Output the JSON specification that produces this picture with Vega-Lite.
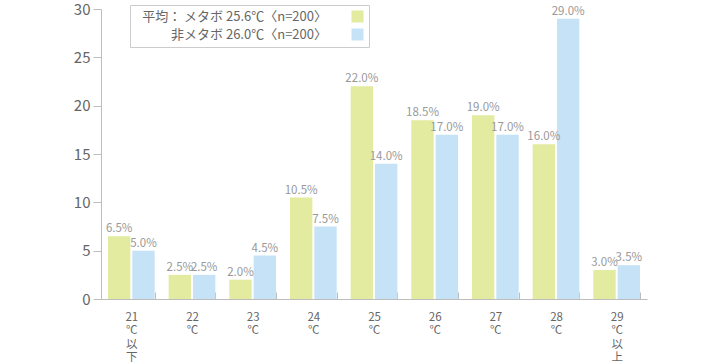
{
  "$schema": "https://vega.github.io/schema/vega-lite/v6.json",
  "width": 546,
  "height": 290,
  "autosize": "none",
  "padding": {"left": 101, "top": 9, "right": 69, "bottom": 65},
  "background": "white",
  "config": {
    "font": "Noto Sans CJK JP",
    "view": {"stroke": null},
    "axis": {"grid": false, "domainColor": "#bdbdbd", "tickColor": "#bdbdbd", "labelColor": "#666666", "title": null}
  },
  "data": {
    "values": [
      {"temp": "21|℃|以|下", "group": "メタボ", "value": 6.5},
      {"temp": "21|℃|以|下", "group": "非メタボ", "value": 5.0},
      {"temp": "22|℃", "group": "メタボ", "value": 2.5},
      {"temp": "22|℃", "group": "非メタボ", "value": 2.5},
      {"temp": "23|℃", "group": "メタボ", "value": 2.0},
      {"temp": "23|℃", "group": "非メタボ", "value": 4.5},
      {"temp": "24|℃", "group": "メタボ", "value": 10.5},
      {"temp": "24|℃", "group": "非メタボ", "value": 7.5},
      {"temp": "25|℃", "group": "メタボ", "value": 22.0},
      {"temp": "25|℃", "group": "非メタボ", "value": 14.0},
      {"temp": "26|℃", "group": "メタボ", "value": 18.5},
      {"temp": "26|℃", "group": "非メタボ", "value": 17.0},
      {"temp": "27|℃", "group": "メタボ", "value": 19.0},
      {"temp": "27|℃", "group": "非メタボ", "value": 17.0},
      {"temp": "28|℃", "group": "メタボ", "value": 16.0},
      {"temp": "28|℃", "group": "非メタボ", "value": 29.0},
      {"temp": "29|℃|以|上", "group": "メタボ", "value": 3.0},
      {"temp": "29|℃|以|上", "group": "非メタボ", "value": 3.5}
    ]
  },
  "encoding": {
    "x": {
      "field": "temp", "type": "nominal", "sort": null,
      "scale": {"paddingInner": 0.23, "paddingOuter": 0.115},
      "axis": {
        "labelAngle": 0, "tickBand": "extent", "tickSize": -7,
        "labelExpr": "split(datum.label, '|')",
        "labelFontSize": 11.5, "labelLineHeight": 13.5, "labelPadding": 19,
        "labelBaseline": "top"
      }
    },
    "xOffset": {"field": "group", "type": "nominal", "sort": ["メタボ", "非メタボ"], "scale": {"paddingInner": 0.08, "paddingOuter": 0}},
    "y": {
      "field": "value", "type": "quantitative",
      "scale": {"domain": [0, 30], "nice": false},
      "axis": {"values": [0, 5, 10, 15, 20, 25, 30], "tickSize": 8, "labelFontSize": 15, "labelPadding": 3}
    }
  },
  "layer": [
    {
      "mark": {"type": "bar"},
      "encoding": {
        "color": {
          "field": "group", "type": "nominal",
          "scale": {"domain": ["メタボ", "非メタボ"], "range": ["#e2eb9f", "#c6e2f6"]},
          "legend": {
            "title": null, "orient": "none", "legendX": 29, "legendY": -4,
            "symbolType": "square", "symbolSize": 144, "symbolStrokeWidth": 0,
            "labelFontSize": 13, "labelColor": "#666666", "labelLimit": 400,
            "labelAlign": "right", "labelOffset": -37, "symbolOffset": 216,
            "strokeColor": "#cccccc", "padding": 5, "rowPadding": 4,
            "labelExpr": "datum.label == 'メタボ' ? '平均： メタボ 25.6℃〈n=200〉' : '非メタボ 26.0℃〈n=200〉'"
          }
        }
      }
    },
    {
      "transform": [{"calculate": "format(datum.value, '.1f') + '%'", "as": "label"}],
      "mark": {"type": "text", "baseline": "bottom", "dy": -2, "fontSize": 11.5, "color": "#999999"},
      "encoding": {
        "text": {"field": "label", "type": "nominal"}
      }
    }
  ]
}
